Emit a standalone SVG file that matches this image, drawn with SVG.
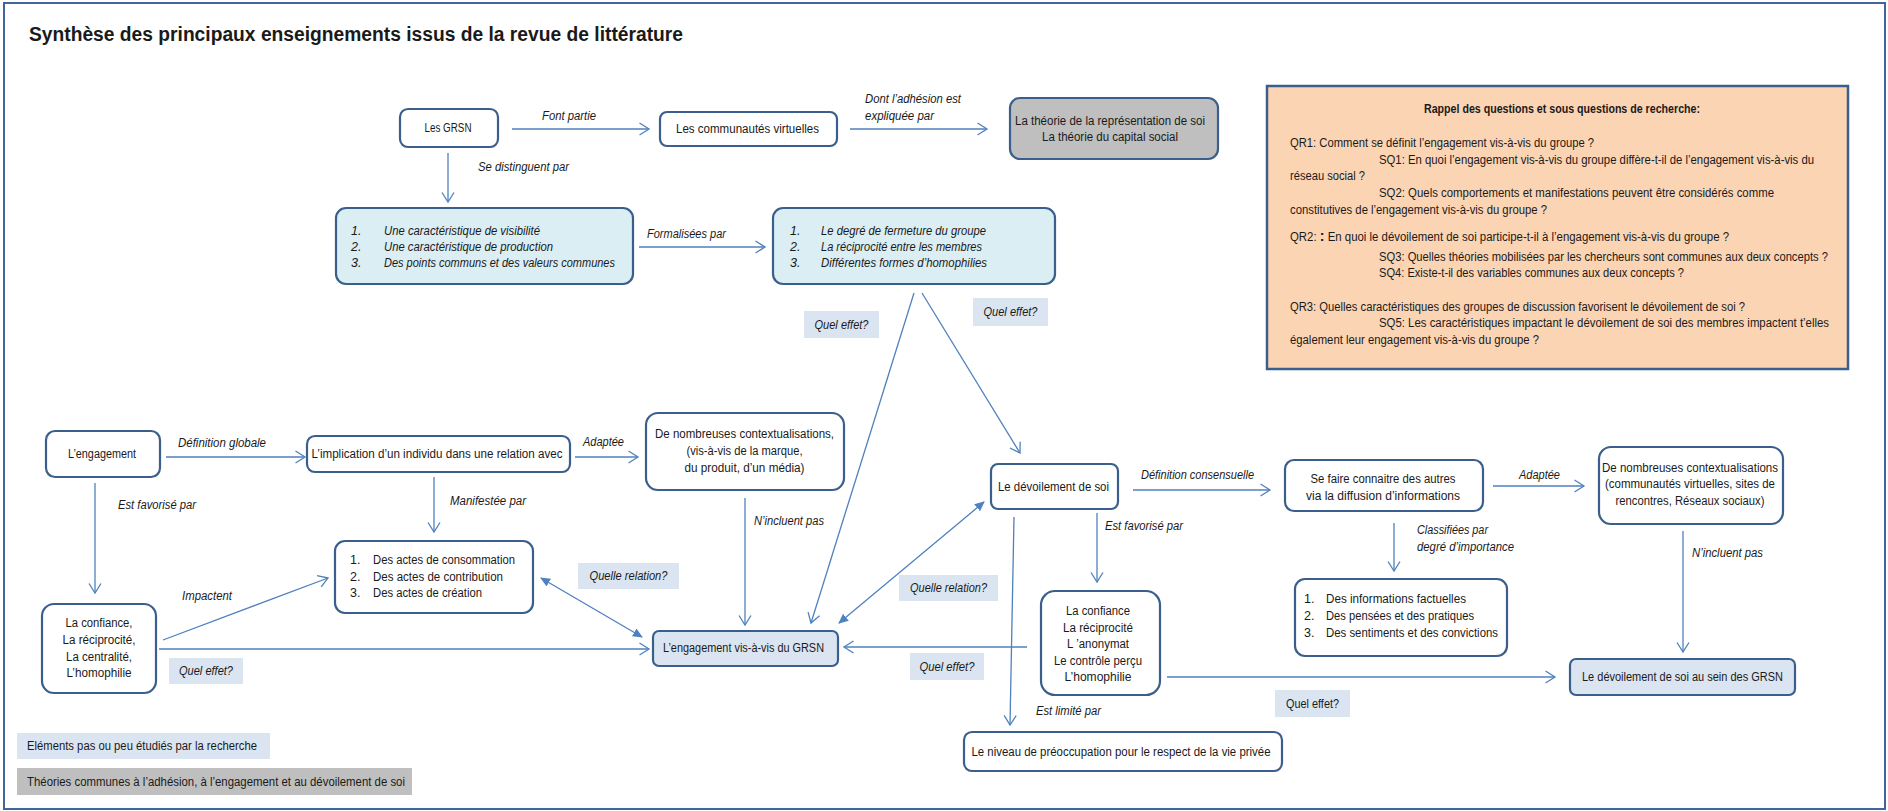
<svg xmlns="http://www.w3.org/2000/svg" width="1888" height="811" viewBox="0 0 1888 811">
<style>
text{font-family:'Liberation Sans',Arial,sans-serif;fill:#1a1a1a;font-size:12.5px}
.c{text-anchor:middle}
.i{font-style:italic}
.lbl{font-size:12px;font-style:italic}
.pq{font-size:12px}
.box{fill:#ffffff;stroke:#3b5f8d;stroke-width:2.2}
.blue{fill:#daeef3;stroke:#3b5f8d;stroke-width:2.2}
.lav{fill:#dbe5f1;stroke:#3b5f8d;stroke-width:2.2}
.gray{fill:#bfbfbf;stroke:#3b5f8d;stroke-width:2.2}
.tag{fill:#dbe5f1}
.con line{stroke:#4f81bd;stroke-width:1.3;fill:none}
.a{marker-end:url(#arr)}
.d{marker-start:url(#tri);marker-end:url(#tri)}
</style>
<defs>
<marker id="arr" viewBox="0 0 10 12" refX="9.5" refY="6" markerWidth="10" markerHeight="12" markerUnits="userSpaceOnUse" orient="auto" overflow="visible">
<path d="M0,0 L9.5,6 L0,12" fill="none" stroke="#4f81bd" stroke-width="1.3"/>
</marker>
<marker id="tri" viewBox="0 0 10 10" refX="9" refY="5" markerWidth="10" markerHeight="10" markerUnits="userSpaceOnUse" orient="auto-start-reverse">
<path d="M0,0.5 L10,5 L0,9.5 z" fill="#4f81bd"/>
</marker>
</defs>
<rect x="0" y="0" width="1888" height="811" fill="#ffffff"/>
<rect x="4" y="3" width="1881" height="806" fill="none" stroke="#41679a" stroke-width="2"/>
<text x="29" y="41" textLength="654" lengthAdjust="spacingAndGlyphs" style="font-size:20px;font-weight:bold">Synthèse des principaux enseignements issus de la revue de littérature</text>

<g id="connectors" class="con">
<line class="a" x1="512" y1="129" x2="649" y2="129"/>
<line class="a" x1="850" y1="129" x2="987" y2="129"/>
<line class="a" x1="448" y1="153" x2="448" y2="202"/>
<line class="a" x1="639" y1="247" x2="765" y2="247"/>
<line class="a" x1="914" y1="293" x2="811" y2="623"/>
<line class="a" x1="922" y1="293" x2="1020" y2="453"/>
<line class="a" x1="166" y1="457" x2="305" y2="457"/>
<line class="a" x1="575" y1="457" x2="638" y2="457"/>
<line class="a" x1="434" y1="477" x2="434" y2="532"/>
<line class="a" x1="95" y1="483" x2="95" y2="593"/>
<line class="a" x1="745" y1="498" x2="745" y2="625"/>
<line class="a" x1="163" y1="640" x2="328" y2="578"/>
<line class="a" x1="159" y1="649" x2="649" y2="649"/>
<line class="d" x1="541" y1="578" x2="642" y2="637"/>
<line class="d" x1="984" y1="502" x2="839" y2="623"/>
<line class="a" x1="1027" y1="647" x2="844" y2="647"/>
<line class="a" x1="1133" y1="490" x2="1270" y2="490"/>
<line class="a" x1="1097" y1="513" x2="1097" y2="582"/>
<line class="a" x1="1014" y1="517" x2="1010" y2="725"/>
<line class="a" x1="1167" y1="677" x2="1555" y2="677"/>
<line class="a" x1="1493" y1="486" x2="1584" y2="486"/>
<line class="a" x1="1394" y1="523" x2="1394" y2="571"/>
<line class="a" x1="1683" y1="531" x2="1683" y2="652"/>
</g>

<g id="edge-labels">
<text class="lbl" x="542" y="120" textLength="54" lengthAdjust="spacingAndGlyphs">Font partie</text>
<text class="lbl" x="865" y="103" textLength="96" lengthAdjust="spacingAndGlyphs">Dont l’adhésion est</text>
<text class="lbl" x="865" y="120" textLength="69" lengthAdjust="spacingAndGlyphs">expliquée par</text>
<text class="lbl" x="478" y="171" textLength="91" lengthAdjust="spacingAndGlyphs">Se distinguent par</text>
<text class="lbl" x="647" y="238" textLength="79" lengthAdjust="spacingAndGlyphs">Formalisées  par</text>
<text class="lbl" x="178" y="447" textLength="88" lengthAdjust="spacingAndGlyphs">Définition globale</text>
<text class="lbl" x="583" y="446" textLength="41" lengthAdjust="spacingAndGlyphs">Adaptée</text>
<text class="lbl" x="450" y="505" textLength="76" lengthAdjust="spacingAndGlyphs">Manifestée par</text>
<text class="lbl" x="118" y="509" textLength="78" lengthAdjust="spacingAndGlyphs">Est favorisé par</text>
<text class="lbl" x="754" y="525" textLength="70" lengthAdjust="spacingAndGlyphs">N’incluent pas</text>
<text class="lbl" x="182" y="600" textLength="50" lengthAdjust="spacingAndGlyphs">Impactent</text>
<text class="lbl" x="1141" y="479" textLength="113" lengthAdjust="spacingAndGlyphs">Définition consensuelle</text>
<text class="lbl" x="1105" y="530" textLength="78" lengthAdjust="spacingAndGlyphs">Est favorisé par</text>
<text class="lbl" x="1036" y="715" textLength="65" lengthAdjust="spacingAndGlyphs">Est limité par</text>
<text class="lbl" x="1519" y="479" textLength="41" lengthAdjust="spacingAndGlyphs">Adaptée</text>
<text class="lbl" x="1417" y="534" textLength="71" lengthAdjust="spacingAndGlyphs">Classifiées par</text>
<text class="lbl" x="1417" y="551" textLength="97" lengthAdjust="spacingAndGlyphs">degré d’importance</text>
<text class="lbl" x="1692" y="557" textLength="71" lengthAdjust="spacingAndGlyphs">N’incluent pas</text>
</g>

<g id="tag-effet-1"><rect class="tag" x="804" y="311" width="75" height="27"/><text class="lbl c" x="841.5" y="329" textLength="54" lengthAdjust="spacingAndGlyphs">Quel effet?</text></g>
<g id="tag-effet-2"><rect class="tag" x="973" y="298" width="75" height="28"/><text class="lbl c" x="1010.5" y="316" textLength="54" lengthAdjust="spacingAndGlyphs">Quel effet?</text></g>
<g id="tag-relation-1"><rect class="tag" x="578" y="563" width="101" height="26"/><text class="lbl c" x="628.5" y="580" textLength="78" lengthAdjust="spacingAndGlyphs">Quelle relation?</text></g>
<g id="tag-effet-3"><rect class="tag" x="169" y="658" width="74" height="26"/><text class="lbl c" x="206" y="675" textLength="54" lengthAdjust="spacingAndGlyphs">Quel effet?</text></g>
<g id="tag-relation-2"><rect class="tag" x="899" y="575" width="99" height="26"/><text class="lbl c" x="948.5" y="592" textLength="77" lengthAdjust="spacingAndGlyphs">Quelle relation?</text></g>
<g id="tag-effet-4"><rect class="tag" x="910" y="653" width="74" height="27"/><text class="lbl c" x="947" y="671" textLength="55" lengthAdjust="spacingAndGlyphs">Quel effet?</text></g>
<g id="tag-effet-5"><rect class="tag" x="1275" y="690" width="75" height="27"/><text class="c" x="1312.5" y="708" textLength="53" lengthAdjust="spacingAndGlyphs" style="font-size:12px">Quel effet?</text></g>

<g id="n-grsn"><rect class="box" x="400" y="109" width="98" height="38" rx="8"/><text class="c" x="448" y="132" textLength="47" lengthAdjust="spacingAndGlyphs">Les GRSN</text></g>
<g id="n-communautes"><rect class="box" x="660" y="112" width="177" height="34" rx="7"/><text class="c" x="747.5" y="133" textLength="143" lengthAdjust="spacingAndGlyphs">Les communautés virtuelles</text></g>
<g id="n-theories"><rect class="gray" x="1010" y="98" width="208" height="61" rx="10"/>
<text class="c" x="1110" y="125" textLength="190" lengthAdjust="spacingAndGlyphs">La théorie de  la représentation de soi</text>
<text class="c" x="1110" y="141" textLength="136" lengthAdjust="spacingAndGlyphs">La théorie du capital social</text></g>

<g id="n-caracteristiques"><rect class="blue" x="336" y="208" width="297" height="76" rx="10"/>
<text class="i" x="351" y="235">1.</text><text class="i" x="384" y="235" textLength="156" lengthAdjust="spacingAndGlyphs">Une caractéristique  de visibilité</text>
<text class="i" x="351" y="251">2.</text><text class="i" x="384" y="251" textLength="169" lengthAdjust="spacingAndGlyphs">Une caractéristique  de production</text>
<text class="i" x="351" y="267">3.</text><text class="i" x="384" y="267" textLength="231" lengthAdjust="spacingAndGlyphs">Des points communs et des valeurs communes</text></g>

<g id="n-formalisation"><rect class="blue" x="773" y="208" width="282" height="76" rx="10"/>
<text class="i" x="790" y="235">1.</text><text class="i" x="821" y="235" textLength="165" lengthAdjust="spacingAndGlyphs">Le degré de fermeture  du groupe</text>
<text class="i" x="790" y="251">2.</text><text class="i" x="821" y="251" textLength="161" lengthAdjust="spacingAndGlyphs">La réciprocité  entre  les membres</text>
<text class="i" x="790" y="267">3.</text><text class="i" x="821" y="267" textLength="166" lengthAdjust="spacingAndGlyphs">Différentes  formes d’homophilies</text></g>

<g id="n-questions"><rect x="1267" y="86" width="581" height="283" fill="#fbd4b4" stroke="#3b5f8d" stroke-width="2.5"/>
<text class="c pq" x="1562" y="113" textLength="276" lengthAdjust="spacingAndGlyphs" style="font-weight:bold">Rappel des questions et sous questions de recherche:</text>
<text class="pq" x="1290" y="147" textLength="304" lengthAdjust="spacingAndGlyphs">QR1: Comment  se définit l’engagement  vis-à-vis du groupe ?</text>
<text class="pq" x="1379" y="164" textLength="435" lengthAdjust="spacingAndGlyphs">SQ1: En quoi l’engagement  vis-à-vis du groupe diffère-t-il de l’engagement  vis-à-vis du</text>
<text class="pq" x="1290" y="180" textLength="75" lengthAdjust="spacingAndGlyphs">réseau social ?</text>
<text class="pq" x="1379" y="197" textLength="395" lengthAdjust="spacingAndGlyphs">SQ2: Quels comportements  et  manifestations peuvent être  considérés comme</text>
<text class="pq" x="1290" y="214" textLength="257" lengthAdjust="spacingAndGlyphs">constitutives de l’engagement  vis-à-vis du groupe ?</text>
<text class="pq" x="1290" y="241" textLength="439" lengthAdjust="spacingAndGlyphs">QR2: <tspan style="font-weight:bold;font-size:15px">:</tspan> En quoi le dévoilement de soi participe-t-il à l’engagement vis-à-vis du groupe ?</text>
<text class="pq" x="1379" y="261" textLength="449" lengthAdjust="spacingAndGlyphs">SQ3: Quelles théories mobilisées par les chercheurs sont communes aux deux concepts ?</text>
<text class="pq" x="1379" y="277" textLength="305" lengthAdjust="spacingAndGlyphs">SQ4: Existe-t-il des variables communes aux deux concepts ?</text>
<text class="pq" x="1290" y="311" textLength="455" lengthAdjust="spacingAndGlyphs">QR3: Quelles caractéristiques des groupes de discussion favorisent le dévoilement de soi ?</text>
<text class="pq" x="1379" y="327" textLength="450" lengthAdjust="spacingAndGlyphs">SQ5: Les caractéristiques impactant le dévoilement de soi des membres  impactent t’elles</text>
<text class="pq" x="1290" y="344" textLength="249" lengthAdjust="spacingAndGlyphs">également  leur engagement  vis-à-vis du groupe ?</text></g>

<g id="n-engagement"><rect class="box" x="46" y="431" width="114" height="46" rx="9"/><text class="c" x="102" y="458" textLength="68" lengthAdjust="spacingAndGlyphs">L’engagement</text></g>
<g id="n-implication"><rect class="box" x="307" y="436" width="263" height="36" rx="8"/><text class="c" x="437" y="458" textLength="251" lengthAdjust="spacingAndGlyphs">L’implication d’un individu dans une relation avec</text></g>
<g id="n-contextualisations-1"><rect class="box" x="646" y="413" width="198" height="77" rx="12"/>
<text class="c" x="744.5" y="438" textLength="179" lengthAdjust="spacingAndGlyphs">De nombreuses contextualisations,</text>
<text class="c" x="744.5" y="455" textLength="116" lengthAdjust="spacingAndGlyphs">(vis-à-vis de la marque,</text>
<text class="c" x="744.5" y="472" textLength="120" lengthAdjust="spacingAndGlyphs">du produit, d’un média)</text></g>
<g id="n-actes"><rect class="box" x="335" y="541" width="198" height="72" rx="10"/>
<text x="350" y="564">1.</text><text x="373" y="564" textLength="142" lengthAdjust="spacingAndGlyphs">Des actes de consommation</text>
<text x="350" y="581">2.</text><text x="373" y="581" textLength="130" lengthAdjust="spacingAndGlyphs">Des actes de contribution</text>
<text x="350" y="597">3.</text><text x="373" y="597" textLength="109" lengthAdjust="spacingAndGlyphs">Des actes de création</text></g>
<g id="n-facteurs-engagement"><rect class="box" x="42" y="604" width="114" height="89" rx="12"/>
<text class="c" x="99" y="627" textLength="67" lengthAdjust="spacingAndGlyphs">La confiance,</text>
<text class="c" x="99" y="644" textLength="73" lengthAdjust="spacingAndGlyphs">La réciprocité,</text>
<text class="c" x="99" y="661" textLength="66" lengthAdjust="spacingAndGlyphs">La centralité,</text>
<text class="c" x="99" y="677" textLength="65" lengthAdjust="spacingAndGlyphs">L’homophilie</text></g>
<g id="n-engagement-grsn"><rect class="lav" x="653" y="631" width="185" height="35" rx="6"/><text class="c" x="743.5" y="652" textLength="161" lengthAdjust="spacingAndGlyphs">L’engagement  vis-à-vis du GRSN</text></g>
<g id="n-devoilement"><rect class="box" x="991" y="464" width="127" height="45" rx="7"/><text class="c" x="1053.5" y="491" textLength="111" lengthAdjust="spacingAndGlyphs">Le dévoilement de soi</text></g>
<g id="n-facteurs-devoilement"><rect class="box" x="1041" y="591" width="119" height="104" rx="14"/>
<text class="c" x="1098" y="615" textLength="64" lengthAdjust="spacingAndGlyphs">La confiance</text>
<text class="c" x="1098" y="632" textLength="70" lengthAdjust="spacingAndGlyphs">La réciprocité</text>
<text class="c" x="1098" y="648" textLength="62" lengthAdjust="spacingAndGlyphs">L ’anonymat</text>
<text class="c" x="1098" y="665" textLength="88" lengthAdjust="spacingAndGlyphs">Le contrôle perçu</text>
<text class="c" x="1098" y="681" textLength="67" lengthAdjust="spacingAndGlyphs">L’homophilie</text></g>
<g id="n-vie-privee"><rect class="box" x="964" y="732" width="318" height="39" rx="8"/><text class="c" x="1121" y="756" textLength="299" lengthAdjust="spacingAndGlyphs" style="font-size:12px">Le niveau de préoccupation pour le respect de la vie privée</text></g>
<g id="n-se-faire-connaitre"><rect class="box" x="1285" y="460" width="198" height="51" rx="9"/>
<text class="c" x="1383" y="483" textLength="145" lengthAdjust="spacingAndGlyphs">Se faire connaitre des autres</text>
<text class="c" x="1383" y="500" textLength="154" lengthAdjust="spacingAndGlyphs">via la diffusion d’informations</text></g>
<g id="n-contextualisations-2"><rect class="box" x="1599" y="447" width="184" height="77" rx="12"/>
<text class="c" x="1690" y="472" textLength="176" lengthAdjust="spacingAndGlyphs">De nombreuses contextualisations</text>
<text class="c" x="1690" y="488" textLength="170" lengthAdjust="spacingAndGlyphs">(communautés virtuelles, sites de</text>
<text class="c" x="1690" y="505" textLength="149" lengthAdjust="spacingAndGlyphs">rencontres, Réseaux sociaux)</text></g>
<g id="n-informations"><rect class="box" x="1295" y="579" width="212" height="77" rx="10"/>
<text x="1304" y="603">1.</text><text x="1326" y="603" textLength="140" lengthAdjust="spacingAndGlyphs">Des informations factuelles</text>
<text x="1304" y="620">2.</text><text x="1326" y="620" textLength="148" lengthAdjust="spacingAndGlyphs">Des pensées et des pratiques</text>
<text x="1304" y="637">3.</text><text x="1326" y="637" textLength="172" lengthAdjust="spacingAndGlyphs">Des sentiments et des convictions</text></g>
<g id="n-devoilement-grsn"><rect class="lav" x="1570" y="659" width="225" height="36" rx="6"/><text class="c" x="1682.5" y="681" textLength="201" lengthAdjust="spacingAndGlyphs">Le dévoilement de soi au sein des  GRSN</text></g>

<g id="legend">
<rect class="tag" x="17" y="733" width="253" height="26"/>
<text x="27" y="750" textLength="230" lengthAdjust="spacingAndGlyphs" style="font-size:12.5px">Eléments pas ou peu étudiés par la recherche</text>
<rect x="17" y="768" width="395" height="27" fill="#bfbfbf"/>
<text x="27" y="786" textLength="378" lengthAdjust="spacingAndGlyphs" style="font-size:12.5px">Théories communes à l’adhésion, à l’engagement et au dévoilement de soi</text>
</g>
</svg>
